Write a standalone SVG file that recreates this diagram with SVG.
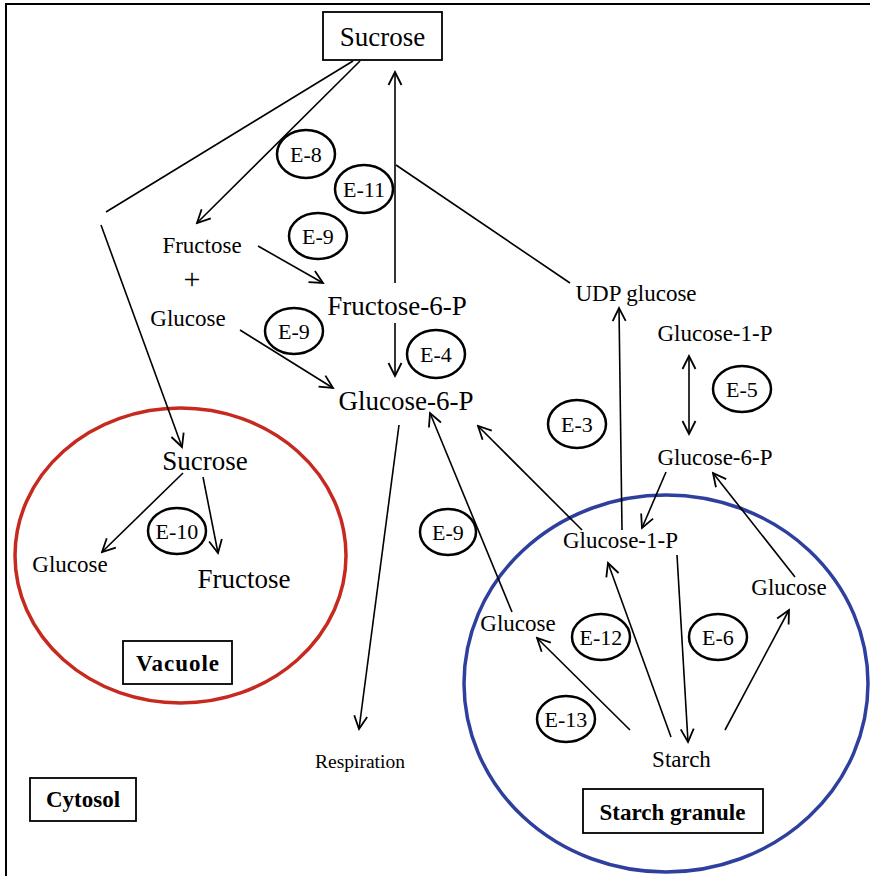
<svg xmlns="http://www.w3.org/2000/svg" width="870" height="876" viewBox="0 0 870 876">
<defs>
<marker id="ah" markerUnits="userSpaceOnUse" markerWidth="16" markerHeight="16" viewBox="-14 -8 16 16" refX="0" refY="0" orient="auto">
<path d="M-13,-6.5 L0,0 L-13,6.5" fill="none" stroke="#000" stroke-width="1.8"/>
</marker>
<marker id="ahs" markerUnits="userSpaceOnUse" markerWidth="16" markerHeight="16" viewBox="-14 -8 16 16" refX="0" refY="0" orient="auto-start-reverse">
<path d="M-13,-6.5 L0,0 L-13,6.5" fill="none" stroke="#000" stroke-width="1.8"/>
</marker>
</defs>
<style>
text{font-family:"Liberation Serif","Times New Roman",serif;fill:#000}
.big{font-size:27px}
.sm{font-size:23px}
.bold{font-size:23px;font-weight:bold}
.enz{font-size:22px}
.ell{fill:none;stroke:#000;stroke-width:2.5}
.box{fill:#fff;stroke:#000;stroke-width:1.8}
.ln{fill:none;stroke:#000;stroke-width:1.6}
.ar{fill:none;stroke:#000;stroke-width:1.6;marker-end:url(#ah)}
</style>
<rect width="870" height="876" fill="#fff"/>
<g id="frame">
<line x1="5" y1="4" x2="870" y2="4" stroke="#000" stroke-width="2"/>
<line x1="6" y1="4" x2="6" y2="876" stroke="#000" stroke-width="2"/>
</g>
<g id="vacuole">
<ellipse cx="180.5" cy="555.5" rx="165.5" ry="147.5" fill="none" stroke="#c62a1f" stroke-width="3.5"/>
<rect class="box" x="123" y="641" width="109" height="43"/>
<text class="bold" x="178" y="671" text-anchor="middle" letter-spacing="1">Vacuole</text>
</g>
<g id="starch-granule">
<ellipse cx="666" cy="683.5" rx="202" ry="188.5" fill="none" stroke="#2e3f9e" stroke-width="3.5"/>
<rect class="box" x="583" y="789" width="180" height="44"/>
<text class="bold" x="672.5" y="820" text-anchor="middle">Starch granule</text>
</g>
<g id="cytosol">
<rect class="box" x="30" y="778" width="106" height="43"/>
<text class="bold" x="83" y="807" text-anchor="middle">Cytosol</text>
</g>
<g id="connectors">
<line class="ln" x1="353" y1="61" x2="106" y2="212"/>
<line class="ar" x1="360" y1="61" x2="197" y2="223"/>
<line class="ar" x1="101" y1="225" x2="182" y2="447"/>
<line class="ar" x1="395" y1="283" x2="395" y2="72"/>
<line class="ln" x1="396" y1="165" x2="570" y2="283"/>
<line class="ar" x1="258" y1="246" x2="323" y2="283"/>
<line class="ar" x1="240" y1="330" x2="333" y2="388"/>
<line class="ar" x1="395" y1="323" x2="395" y2="376"/>
<line class="ar" x1="399" y1="425" x2="359" y2="729"/>
<line class="ar" x1="183" y1="473" x2="102" y2="552"/>
<line class="ar" x1="203" y1="477" x2="218" y2="553"/>
<line class="ar" x1="630" y1="730" x2="537" y2="638"/>
<line class="ar" x1="671" y1="737" x2="608" y2="563"/>
<line class="ar" x1="677" y1="555" x2="688" y2="742"/>
<line class="ar" x1="725" y1="730" x2="789" y2="610"/>
<line class="ar" x1="512" y1="612" x2="430" y2="413"/>
<line class="ar" x1="582" y1="530" x2="478" y2="426"/>
<line class="ar" x1="622" y1="530" x2="619" y2="308"/>
<line x1="689" y1="356" x2="689" y2="434" fill="none" stroke="#000" stroke-width="1.6" marker-start="url(#ahs)" marker-end="url(#ah)"/>
<line class="ar" x1="666" y1="472" x2="642" y2="528"/>
<line class="ar" x1="795" y1="577" x2="713" y2="473"/>
</g>
<g id="n-sucrose">
<rect class="box" x="323" y="12" width="119" height="48"/>
<text class="big" x="382.5" y="46" text-anchor="middle">Sucrose</text>
</g>
<g id="n-fructose"><text class="sm" x="202" y="253" text-anchor="middle">Fructose</text></g>
<g id="n-plus"><text x="192" y="289" text-anchor="middle" font-size="30">+</text></g>
<g id="n-glucose"><text class="sm" x="188" y="326" text-anchor="middle">Glucose</text></g>
<g id="n-f6p"><text class="big" x="397" y="315" text-anchor="middle">Fructose-6-P</text></g>
<g id="n-g6p"><text class="big" x="406" y="410" text-anchor="middle">Glucose-6-P</text></g>
<g id="n-udpg"><text class="sm" x="636" y="301" text-anchor="middle">UDP glucose</text></g>
<g id="n-g1p-top"><text class="sm" x="715" y="341" text-anchor="middle">Glucose-1-P</text></g>
<g id="n-g6p-right"><text class="sm" x="715" y="465" text-anchor="middle">Glucose-6-P</text></g>
<g id="n-g1p-gran"><text class="sm" x="620.5" y="548" text-anchor="middle">Glucose-1-P</text></g>
<g id="n-glc-gran-left"><text class="sm" x="518" y="631" text-anchor="middle">Glucose</text></g>
<g id="n-glc-gran-right"><text class="sm" x="789" y="595" text-anchor="middle">Glucose</text></g>
<g id="n-starch"><text class="sm" x="681.5" y="767" text-anchor="middle">Starch</text></g>
<g id="n-respiration"><text x="360" y="768" text-anchor="middle" font-size="19.5">Respiration</text></g>
<g id="n-vac-sucrose"><text class="big" x="205" y="470" text-anchor="middle">Sucrose</text></g>
<g id="n-vac-glucose"><text class="sm" x="70" y="572" text-anchor="middle">Glucose</text></g>
<g id="n-vac-fructose"><text class="big" x="244" y="588" text-anchor="middle">Fructose</text></g>
<g id="e-8"><ellipse class="ell" cx="306" cy="154" rx="29" ry="24"/><text class="enz" x="306" y="162" text-anchor="middle">E-8</text></g>
<g id="e-11"><ellipse class="ell" cx="364" cy="189" rx="29" ry="24"/><text class="enz" x="364" y="197" text-anchor="middle">E-11</text></g>
<g id="e-9a"><ellipse class="ell" cx="318" cy="236" rx="29" ry="23"/><text class="enz" x="318" y="244" text-anchor="middle">E-9</text></g>
<g id="e-9b"><ellipse class="ell" cx="294" cy="331" rx="29" ry="23"/><text class="enz" x="294" y="339" text-anchor="middle">E-9</text></g>
<g id="e-4"><ellipse class="ell" cx="436" cy="354" rx="29" ry="24"/><text class="enz" x="436" y="362" text-anchor="middle">E-4</text></g>
<g id="e-3"><ellipse class="ell" cx="577" cy="424" rx="29" ry="24"/><text class="enz" x="577" y="432" text-anchor="middle">E-3</text></g>
<g id="e-5"><ellipse class="ell" cx="742" cy="389" rx="29" ry="23"/><text class="enz" x="742" y="397" text-anchor="middle">E-5</text></g>
<g id="e-9c"><ellipse class="ell" cx="448" cy="532" rx="28" ry="23"/><text class="enz" x="448" y="540" text-anchor="middle">E-9</text></g>
<g id="e-10"><ellipse class="ell" cx="177" cy="531" rx="29" ry="23"/><text class="enz" x="177" y="539" text-anchor="middle">E-10</text></g>
<g id="e-12"><ellipse class="ell" cx="601" cy="637" rx="29" ry="23"/><text class="enz" x="601" y="645" text-anchor="middle">E-12</text></g>
<g id="e-6"><ellipse class="ell" cx="718" cy="637" rx="29" ry="23"/><text class="enz" x="718" y="645" text-anchor="middle">E-6</text></g>
<g id="e-13"><ellipse class="ell" cx="566" cy="719" rx="29" ry="23"/><text class="enz" x="566" y="727" text-anchor="middle">E-13</text></g>
</svg>
